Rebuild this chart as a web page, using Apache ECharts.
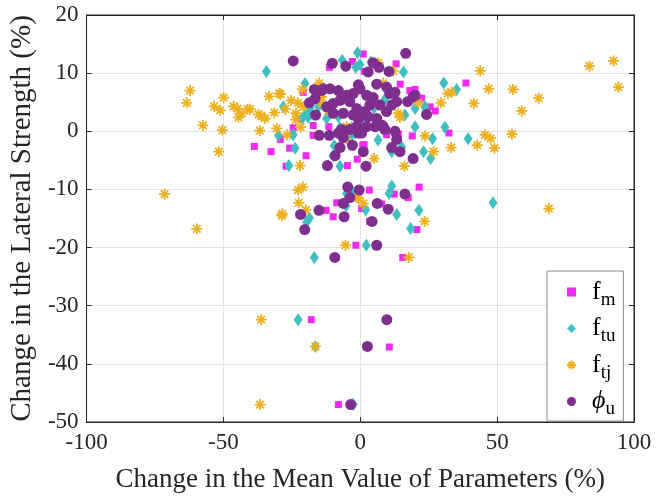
<!DOCTYPE html>
<html>
<head>
<meta charset="utf-8">
<script src="https://cdn.jsdelivr.net/npm/echarts@6/dist/echarts.min.js"></script>
<style>html,body{margin:0;padding:0;background:#fff}#c{width:667px;height:498px}</style>
</head>
<body>
<div id="c"></div>
<script>
// ---- data: [change in mean value of parameter (%), change in lateral strength (%)] ----
var seriesNames = ['f_m', 'f_tu', 'f_tj', 'phi_u'];
var xTicks = [-100, -50, 0, 50, 100];
var yTicks = [-50, -40, -30, -20, -10, 0, 10, 20];

var fmData = [
  [1.1,13.3],[-2.9,12.0],[-11.3,11.0],[1.5,10.3],[13.1,11.6],[14.6,8.1],[38.6,8.3],[27.4,3.5],[25.5,4.2],
  [18.1,7.0],[20.0,7.2],[22.4,5.7],[32.4,-0.3],[19.0,-0.8],[9.6,-0.6],[13.9,-0.5],[1.4,-2.3],[-1.1,-4.8],
  [-4.7,-5.9],[0.9,-2.4],[-38.7,-2.6],[-32.6,-3.5],[-29.2,-1.4],[-25.8,-2.9],[-19.8,-4.2],[-27.1,-6.0],
  [-20.8,6.7],[-24.5,0.6],[-22.0,2.2],[-17.2,-0.7],[-11.5,0.8],[-17.2,1.0],[6.9,4.4],[-10.4,3.1],
  [3.3,-10.1],[12.4,-10.8],[17.5,-11.4],[21.5,-9.6],[-8.6,-12.3],[0.5,-13.3],[7.8,-12.5],[3.4,-15.5],
  [-12.5,-13.6],[-9.9,-14.7],[-22.3,-14.3],[20.7,-16.9],[-1.6,-19.6],[15.5,-21.7],[-17.9,-32.4],
  [10.6,-37.1],[-8.0,-47.0]
];
var ftuData = [
  [-1.0,13.5],[-6.6,12.2],[-1.6,11.0],[-0.1,11.5],[3.9,11.9],[15.8,10.2],[-34.3,10.3],[-20.2,8.2],
  [-28.1,4.2],[-29.9,-0.7],[-24.5,-0.6],[-23.8,-2.9],[-26.1,-5.9],[-7.4,-6.0],[-9.5,-2.5],[-12.3,2.2],
  [-21.2,2.2],[-19.6,3.1],[-18.4,3.9],[-15.3,4.2],[-19.0,2.4],[-8.0,2.5],[-7.4,0.6],[-3.1,0.6],[-3.8,-1.1],
  [-9.9,-4.2],[-9.2,-3.9],[30.5,8.3],[35.2,7.2],[20.0,3.9],[23.6,4.2],[16.3,2.8],[20.0,0.8],[30.9,0.7],
  [39.4,-1.3],[26.4,-1.3],[23.1,-3.5],[25.7,-4.7],[11.5,-3.5],[15.1,-2.7],[48.5,-12.3],
  [5.0,4.0],[9.0,5.5],[0.5,2.0],[6.5,-1.5],[-2.0,-0.3],
  [-2.8,-10.4],[11.5,-9.4],[10.5,-10.7],[-5.2,-12.8],[2.0,-13.5],[13.3,-14.3],[21.4,-13.6],[18.4,-16.7],
  [-18.6,-14.9],[-19.6,-15.6],[-16.8,-21.7],[2.2,-19.6],[-22.7,-32.4],[-16.4,-37.0],[-2.6,-47.0],[-5.0,-10.7]
];
var ftjData = [
  [-62.2,7.0],[-63.4,4.9],[-57.5,1.0],[-50.4,0.2],[-51.7,-3.5],[-49.9,5.8],[-53.4,4.3],[-51.2,3.6],
  [-46.3,4.3],[-44.8,3.9],[-43.3,3.1],[-44.5,2.4],[-41.2,3.8],[-40.3,3.8],[-37.2,2.9],[-36.2,2.7],[-34.8,2.2],
  [-36.7,0.1],[-33.3,6.0],[-29.6,6.5],[-29.1,6.4],[-31.4,3.2],[-27.4,3.8],[-25.3,5.3],[-22.8,4.9],
  [-23.5,3.1],[-23.6,2.0],[-21.2,7.2],[-15.0,8.3],[-21.8,0.7],[-30.5,0.5],[-26.8,-0.6],[-22.0,-5.9],
  [-14.2,5.9],[-14.1,4.8],[-11.7,3.6],[-20.8,4.2],[-5.0,0.8],[-5.2,-1.3],
  [-71.5,-10.8],[-59.7,-16.8],[-22.7,-10.1],[-21.0,-9.6],[-22.5,-12.3],[-19.9,-13.5],[-28.7,-14.5],
  [-28.5,-14.2],[-5.4,-19.6],
  [43.8,10.4],[46.9,7.3],[55.8,7.2],[65.2,5.7],[59.0,3.5],[83.7,11.2],[92.5,12.1],[94.3,7.6],[41.5,4.8],
  [32.0,6.5],[33.4,6.7],[29.5,4.9],[45.6,-0.6],[47.6,-1.2],[49.0,-2.9],[55.4,-0.5],[42.7,-2.4],[33.2,-2.8],
  [23.7,-0.8],[26.8,-3.5],[16.1,-6.0],[5.1,-4.7],[68.9,-13.3],[23.5,-15.5],[17.7,-21.7],
  [12.0,10.4],[6.6,11.8],[8.4,8.3],[21.2,4.9],[13.9,3.1],[14.5,2.4],[-1.1,-11.4],[1.1,-12.4],[-0.7,-11.4],
  [-36.2,-32.4],[-16.4,-37.0],[-36.6,-47.0]
];
var phiData = [
  [-24.5,12.1],[16.6,13.4],[-10.2,11.7],[-5.3,11.2],[4.7,11.8],[6.8,11.0],[2.9,10.2],[10.5,10.3],
  [-16.8,7.2],[-18.6,4.9],[-16.5,5.6],[-16.3,2.8],[-14.1,7.0],[-13.5,7.3],[-11.1,7.3],[-8.0,7.0],[-5.0,6.2],
  [-2.6,6.5],[-0.7,8.0],[-0.1,7.3],[2.3,6.2],[6.0,8.1],[9.6,7.6],[10.8,6.5],[12.7,6.7],[13.3,5.1],[11.5,4.5],
  [9.6,3.4],[7.2,4.5],[3.5,4.5],[1.7,3.4],[-1.3,3.9],[-3.8,5.1],[-7.4,5.3],[-9.9,4.8],[-12.3,4.2],[-6.2,3.1],
  [-9.9,3.1],[-0.7,2.2],[2.9,2.5],[6.0,2.2],[7.8,1.1],[5.4,0.8],[2.3,0.8],[-1.3,0.8],[-0.7,-0.3],[0.5,-0.3],
  [-3.8,0.3],[-8.0,-0.3],[-11.3,-0.7],[-15.0,-0.7],[12.7,0.0],[9.0,0.3],[13.3,-1.4],[11.5,-2.8],[14.5,-3.5],
  [19.3,-4.7],[24.2,2.9],[20.0,6.2],[17.3,5.1],[4.7,5.8],[-2.9,-2.4],[-7.4,-2.8],[-9.2,-4.2],[1.1,-3.5],
  [2.1,-6.0],[-12.0,-5.9],[-6.8,0.3],[-2.6,2.8],[8.4,0.8],[19.3,5.9],[-6.2,-1.1],
  [-4.6,-9.6],[-0.4,-10.1],[-3.8,-11.4],[-6.2,-12.4],[16.3,-10.8],[6.2,-12.4],[10.2,-13.4],[4.3,-15.5],
  [-15.1,-13.6],[-21.8,-14.3],[-5.9,-14.7],[-20.3,-16.9],[-9.3,-21.7],[6.0,-19.6],[9.7,-32.4],[2.6,-37.0],
  [-3.5,-47.0]
];

// ---- chart ----
var FONT = '"Liberation Serif", "Times New Roman", serif';
var AX = '#262626';
var asterisk = 'path://M5,0L5,10M0,5L10,5M1.6,1.6L8.4,8.4M1.6,8.4L8.4,1.6';
var legendText = {
  'f_m':   '{a|f}{s|m}',
  'f_tu':  '{a|f}{s|tu}',
  'f_tj':  '{a|f}{s|tj}',
  'phi_u': '{p|\u03D5}{s|u}'
};

var chart = echarts.init(document.getElementById('c'), null, {renderer: 'canvas'});
chart.setOption({
  animation: false,
  backgroundColor: '#fff',
  textStyle: {fontFamily: FONT},
  grid: {left: 86, right: 33, top: 15, bottom: 68, show: true, borderColor: AX, borderWidth: 1},
  legend: {
    orient: 'vertical',
    left: 547, top: 271,
    padding: [8, 8, 2, 19],
    itemGap: 6,
    itemWidth: 9, itemHeight: 9,
    borderColor: '#8a8a8a', borderWidth: 1,
    backgroundColor: '#fff',
    data: seriesNames,
    formatter: function (n) { return legendText[n]; },
    textStyle: {
      fontFamily: FONT, color: '#000',
      rich: {
        a: {fontSize: 26, fontFamily: FONT, color: '#000', padding: [0, 0, 0, 11]},
        p: {fontSize: 26, fontFamily: FONT, fontStyle: 'italic', color: '#000', padding: [0, 0, 0, 11]},
        s: {fontSize: 19, fontFamily: FONT, color: '#000', padding: [16, 0, 0, 0]}
      }
    }
  },
  xAxis: [{
    type: 'value', min: xTicks[0], max: xTicks[xTicks.length - 1], interval: 50,
    name: 'Change in the Mean Value of Parameters (%)',
    nameLocation: 'middle', nameGap: 44,
    nameTextStyle: {fontFamily: FONT, fontSize: 27, color: '#262626'},
    axisLine: {show: true, onZero: false, lineStyle: {color: AX, width: 1}},
    axisTick: {show: true, inside: true, length: 5, lineStyle: {color: AX}},
    axisLabel: {fontFamily: FONT, fontSize: 23, color: '#262626', margin: 9},
    splitLine: {show: true, lineStyle: {color: '#e3e3e3', width: 1}}
  }, {
    type: 'value', position: 'top', min: xTicks[0], max: xTicks[xTicks.length - 1], interval: 50,
    axisLine: {show: true, onZero: false, lineStyle: {color: AX}},
    axisTick: {show: true, inside: true, length: 5, lineStyle: {color: AX}},
    axisLabel: {show: false}, splitLine: {show: false}
  }],
  yAxis: [{
    type: 'value', min: yTicks[0], max: yTicks[yTicks.length - 1], interval: 10,
    name: 'Change in the Lateral Strength (%)',
    nameLocation: 'middle', nameGap: 36,
    nameTextStyle: {fontFamily: FONT, fontSize: 29, color: '#262626'},
    axisLine: {show: true, onZero: false, lineStyle: {color: AX, width: 1}},
    axisTick: {show: true, inside: true, length: 5, lineStyle: {color: AX}},
    axisLabel: {fontFamily: FONT, fontSize: 23, color: '#262626', margin: 8},
    splitLine: {show: true, lineStyle: {color: '#e3e3e3', width: 1}}
  }, {
    type: 'value', position: 'right', min: yTicks[0], max: yTicks[yTicks.length - 1], interval: 10,
    axisLine: {show: true, onZero: false, lineStyle: {color: AX}},
    axisTick: {show: true, inside: true, length: 5, lineStyle: {color: AX}},
    axisLabel: {show: false}, splitLine: {show: false}
  }],
  series: [{
    name: 'f_m', type: 'scatter', data: fmData,
    symbol: 'rect', symbolSize: 7,
    itemStyle: {color: '#F02AF0', opacity: 1}
  }, {
    name: 'f_tu', type: 'scatter', data: ftuData,
    symbol: 'diamond', symbolSize: [9, 13],
    itemStyle: {color: '#3FBFBF', opacity: 1}
  }, {
    name: 'f_tj', type: 'scatter', data: ftjData,
    symbol: asterisk, symbolSize: 11,
    itemStyle: {color: 'rgba(0,0,0,0)', borderColor: '#EDB120', borderWidth: 1.8, opacity: 1}
  }, {
    name: 'phi_u', type: 'scatter', data: phiData,
    symbol: 'circle', symbolSize: 11,
    itemStyle: {color: '#7E2F8E', opacity: 1}
  }]
});
</script>
</body>
</html>
